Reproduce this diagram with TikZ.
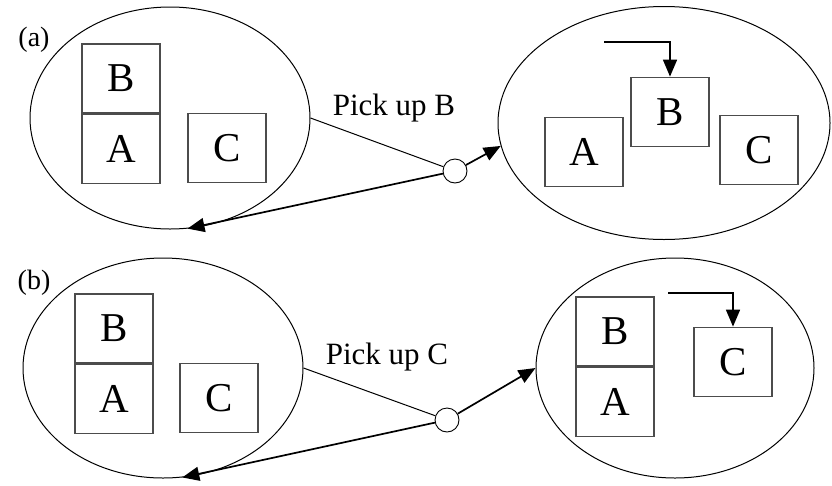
\documentclass[tikz,border=0pt]{standalone}
\usepackage{fontspec}
\setmainfont{Liberation Serif}
\usetikzlibrary{positioning,shapes.geometric,arrows.meta}

\begin{document}
\begin{tikzpicture}[x=1pt,y=-1pt,
	world/.style={draw, ellipse, line width=1pt, inner sep=0pt},
	block/.style={draw=black!70, line width=1.8pt, minimum width=78pt, minimum height=69pt, inner sep=0pt, font=\fontsize{41}{41}\selectfont},
	knot/.style={draw, circle, line width=0.9pt, minimum size=24pt, inner sep=0pt},
	move/.style={line width=1.7pt, -{Triangle[length=17pt,width=14pt]}},
	tag/.style={font=\fontsize{28}{28}\selectfont},
	action/.style={font=\fontsize{31}{31}\selectfont}]
			\useasboundingbox (0,0) rectangle (832,485);
			% (a) pick up B
			\node[world, minimum width=280pt, minimum height=222pt] (a-start) at (170,118) {};
			\node[block] (a-A) at (121,149) {A};
			\node[block, above=0pt of a-A] (a-B) {B};
			\node[block] (a-C) at (227,148) {C};
			\node[tag] (a-tag) at (34,40) {(a)};
			\node[action] (a-act) at (394,108) {Pick up B};
			\node[knot] (a-knot) at (455,171) {};
			\node[world, minimum width=332pt, minimum height=233pt] (a-goal) at (664,123) {};
			\node[block] (a-gA) at (584,152) {A};
			\node[block] (a-gB) at (670,112) {B};
			\node[block] (a-gC) at (759,150) {C};
			\coordinate (a-hand) at (604,42);
			\draw[line width=1pt] (a-start.east) -- (a-knot);
			\draw[move] (a-knot) -- (a-goal.188);
			\draw[move] (a-knot) -- (a-start.-81);
			\draw[move] (a-hand) -| (a-gB.north);
			% (b) pick up C
			\node[world, minimum width=280pt, minimum height=220pt] (b-start) at (163,368) {};
			\node[block] (b-A) at (114,399) {A};
			\node[block, above=0pt of b-A] (b-B) {B};
			\node[block] (b-C) at (219,398) {C};
			\node[tag] (b-tag) at (34,283) {(b)};
			\node[action] (b-act) at (387,357) {Pick up C};
			\node[knot] (b-knot) at (447,420) {};
			\node[world, minimum width=278pt, minimum height=220pt] (b-goal) at (675,368) {};
			\node[block] (b-gA) at (615,402) {A};
			\node[block, above=0pt of b-gA] (b-gB) {B};
			\node[block] (b-gC) at (733,362) {C};
			\coordinate (b-hand) at (668,293);
			\draw[line width=1pt] (b-start.east) -- (b-knot);
			\draw[move] (b-knot) -- (b-goal.west);
			\draw[move] (b-knot) -- (b-start.-80);
			\draw[move] (b-hand) -| (b-gC.north);
\end{tikzpicture}
\end{document}
